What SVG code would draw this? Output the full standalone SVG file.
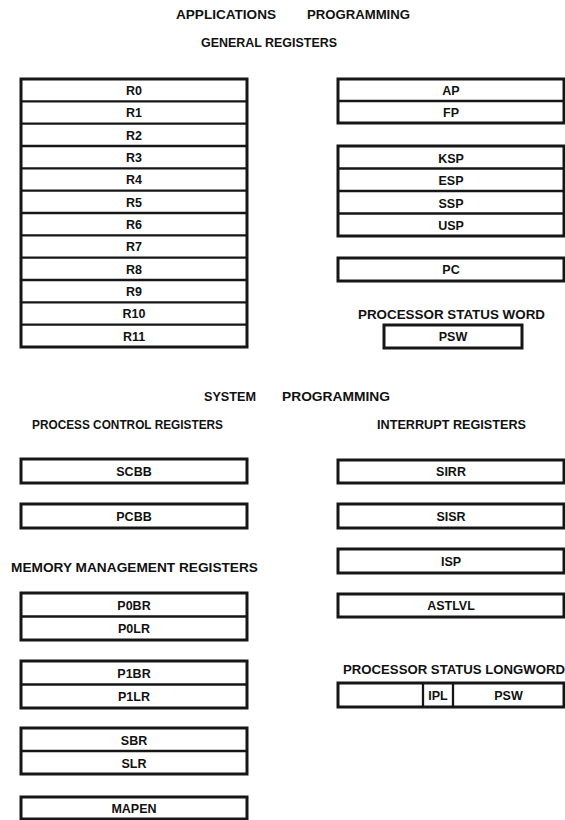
<svg xmlns="http://www.w3.org/2000/svg" width="565" height="820" viewBox="0 0 565 820">
<style>
  .frame { fill: #ffffff; stroke: #161616; stroke-width: 3; }
  .div { stroke: #161616; stroke-width: 2.3; }
  .lbl { font-family: "Liberation Sans", Arial, Helvetica, sans-serif; font-weight: bold; font-size: 12.5px; fill: #111; text-anchor: middle; }
  .ttl { font-family: "Liberation Sans", Arial, Helvetica, sans-serif; font-weight: bold; font-size: 13px; fill: #111; }
</style>
<rect x="0" y="0" width="565" height="820" fill="#ffffff"/>

<g id="titles">
  <text class="ttl" x="176" y="18.5" textLength="100" lengthAdjust="spacingAndGlyphs">APPLICATIONS</text>
  <text class="ttl" x="307" y="18.5" textLength="103" lengthAdjust="spacingAndGlyphs">PROGRAMMING</text>
  <text class="ttl" x="201" y="47" textLength="136" lengthAdjust="spacingAndGlyphs">GENERAL REGISTERS</text>
  <text class="ttl" x="358" y="319" textLength="187" lengthAdjust="spacingAndGlyphs">PROCESSOR STATUS  WORD</text>
  <text class="ttl" x="204" y="401" textLength="52" lengthAdjust="spacingAndGlyphs">SYSTEM</text>
  <text class="ttl" x="282" y="401" textLength="108" lengthAdjust="spacingAndGlyphs">PROGRAMMING</text>
  <text class="ttl" x="32" y="429" textLength="191" lengthAdjust="spacingAndGlyphs">PROCESS CONTROL REGISTERS</text>
  <text class="ttl" x="377" y="429" textLength="149" lengthAdjust="spacingAndGlyphs">INTERRUPT REGISTERS</text>
  <text class="ttl" x="11" y="572" textLength="247" lengthAdjust="spacingAndGlyphs">MEMORY MANAGEMENT  REGISTERS</text>
  <text class="ttl" x="343" y="674" textLength="222" lengthAdjust="spacingAndGlyphs">PROCESSOR STATUS LONGWORD</text>
</g>

<!-- General registers R0..R11 -->
<g id="general-registers">
  <rect class="frame" x="21" y="79" width="226" height="268"/>
  <g id="R0"><text class="lbl" x="134" y="95">R0</text></g>
  <g id="R1"><line class="div" x1="21" y1="101.3" x2="247" y2="101.3"/><text class="lbl" x="134" y="117.3">R1</text></g>
  <g id="R2"><line class="div" x1="21" y1="123.7" x2="247" y2="123.7"/><text class="lbl" x="134" y="139.7">R2</text></g>
  <g id="R3"><line class="div" x1="21" y1="146" x2="247" y2="146"/><text class="lbl" x="134" y="162">R3</text></g>
  <g id="R4"><line class="div" x1="21" y1="168.3" x2="247" y2="168.3"/><text class="lbl" x="134" y="184.3">R4</text></g>
  <g id="R5"><line class="div" x1="21" y1="190.7" x2="247" y2="190.7"/><text class="lbl" x="134" y="206.7">R5</text></g>
  <g id="R6"><line class="div" x1="21" y1="213" x2="247" y2="213"/><text class="lbl" x="134" y="229">R6</text></g>
  <g id="R7"><line class="div" x1="21" y1="235.3" x2="247" y2="235.3"/><text class="lbl" x="134" y="251.3">R7</text></g>
  <g id="R8"><line class="div" x1="21" y1="257.7" x2="247" y2="257.7"/><text class="lbl" x="134" y="273.7">R8</text></g>
  <g id="R9"><line class="div" x1="21" y1="280" x2="247" y2="280"/><text class="lbl" x="134" y="296">R9</text></g>
  <g id="R10"><line class="div" x1="21" y1="302.3" x2="247" y2="302.3"/><text class="lbl" x="134" y="318.3">R10</text></g>
  <g id="R11"><line class="div" x1="21" y1="324.7" x2="247" y2="324.7"/><text class="lbl" x="134" y="340.7">R11</text></g>
</g>

<!-- AP / FP -->
<g id="ap-fp">
  <rect class="frame" x="338" y="79" width="226" height="44"/>
  <g id="AP"><text class="lbl" x="451" y="95">AP</text></g>
  <g id="FP"><line class="div" x1="338" y1="101" x2="564" y2="101"/><text class="lbl" x="451" y="117">FP</text></g>
</g>

<!-- Stack pointers -->
<g id="stack-pointers">
  <rect class="frame" x="338" y="146" width="226" height="90"/>
  <g id="KSP"><text class="lbl" x="451" y="162.5">KSP</text></g>
  <g id="ESP"><line class="div" x1="338" y1="168.5" x2="564" y2="168.5"/><text class="lbl" x="451" y="185">ESP</text></g>
  <g id="SSP"><line class="div" x1="338" y1="191" x2="564" y2="191"/><text class="lbl" x="451" y="207.5">SSP</text></g>
  <g id="USP"><line class="div" x1="338" y1="213.5" x2="564" y2="213.5"/><text class="lbl" x="451" y="230">USP</text></g>
</g>

<g id="PC">
  <rect class="frame" x="338" y="258" width="226" height="23"/>
  <text class="lbl" x="451" y="274">PC</text>
</g>

<g id="PSW-word">
  <rect class="frame" x="384" y="325" width="138" height="23"/>
  <text class="lbl" x="453" y="341">PSW</text>
</g>

<!-- Process control registers -->
<g id="SCBB">
  <rect class="frame" x="21" y="459" width="226" height="24"/>
  <text class="lbl" x="134" y="475.5">SCBB</text>
</g>
<g id="PCBB">
  <rect class="frame" x="21" y="504" width="226" height="24"/>
  <text class="lbl" x="134" y="520.5">PCBB</text>
</g>

<!-- Interrupt registers -->
<g id="SIRR">
  <rect class="frame" x="338" y="460" width="226" height="23"/>
  <text class="lbl" x="451" y="476">SIRR</text>
</g>
<g id="SISR">
  <rect class="frame" x="338" y="504" width="226" height="24"/>
  <text class="lbl" x="451" y="520.5">SISR</text>
</g>
<g id="ISP">
  <rect class="frame" x="338" y="549" width="226" height="24"/>
  <text class="lbl" x="451" y="565.5">ISP</text>
</g>
<g id="ASTLVL">
  <rect class="frame" x="338" y="594" width="226" height="23"/>
  <text class="lbl" x="451" y="610">ASTLVL</text>
</g>

<!-- Processor status longword -->
<g id="PSL">
  <rect class="frame" x="338" y="683" width="226" height="24"/>
  <line class="div" x1="423" y1="683" x2="423" y2="707"/>
  <line class="div" x1="453" y1="683" x2="453" y2="707"/>
  <g id="IPL"><text class="lbl" x="438" y="699.5">IPL</text></g>
  <g id="PSL-PSW"><text class="lbl" x="508.5" y="699.5">PSW</text></g>
</g>

<!-- Memory management registers -->
<g id="p0-registers">
  <rect class="frame" x="21" y="593" width="226" height="47"/>
  <g id="P0BR"><text class="lbl" x="134" y="609.5">P0BR</text></g>
  <g id="P0LR"><line class="div" x1="21" y1="616.5" x2="247" y2="616.5"/><text class="lbl" x="134" y="633">P0LR</text></g>
</g>
<g id="p1-registers">
  <rect class="frame" x="21" y="661" width="226" height="47"/>
  <g id="P1BR"><text class="lbl" x="134" y="677.5">P1BR</text></g>
  <g id="P1LR"><line class="div" x1="21" y1="684.5" x2="247" y2="684.5"/><text class="lbl" x="134" y="701">P1LR</text></g>
</g>
<g id="system-registers">
  <rect class="frame" x="21" y="728" width="226" height="46"/>
  <g id="SBR"><text class="lbl" x="134" y="744.5">SBR</text></g>
  <g id="SLR"><line class="div" x1="21" y1="751" x2="247" y2="751"/><text class="lbl" x="134" y="767.5">SLR</text></g>
</g>
<g id="MAPEN">
  <rect class="frame" x="21" y="797" width="226" height="22"/>
  <text class="lbl" x="134" y="812.5">MAPEN</text>
</g>

<g id="connectors"></g>
</svg>
